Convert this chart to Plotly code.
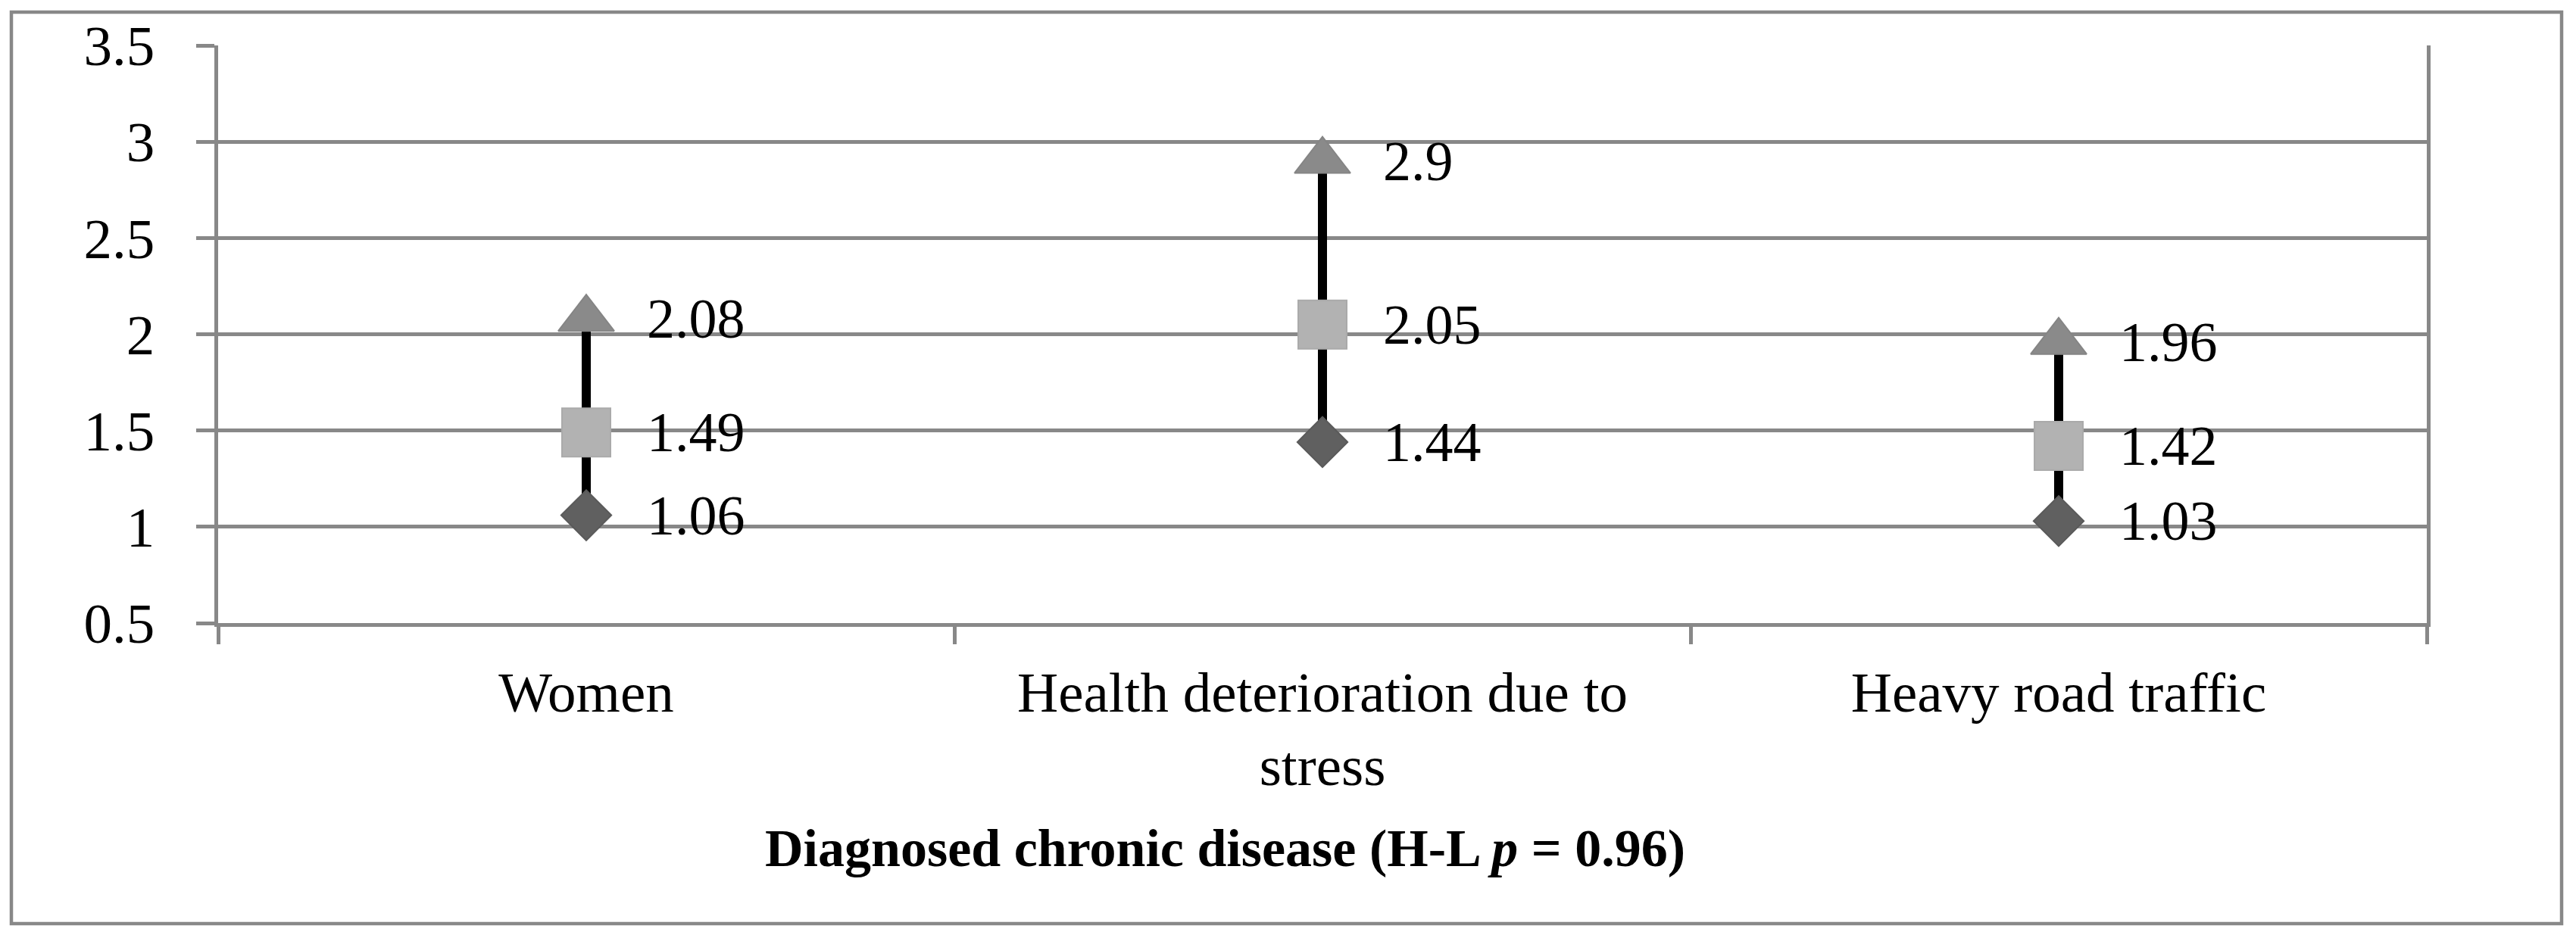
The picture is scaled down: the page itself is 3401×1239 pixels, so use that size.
import plotly.graph_objects as go

# ---- data ----
categories = ["Women", "Health deterioration due to<br>stress", "Heavy road traffic"]
low_values = [1.06, 1.44, 1.03]
mid_values = [1.49, 2.05, 1.42]
high_values = [2.08, 2.90, 1.96]
low_labels = ["1.06", "1.44", "1.03"]
mid_labels = ["1.49", "2.05", "1.42"]
high_labels = ["2.08", "2.9", "1.96"]
y_ticks = [0.5, 1, 1.5, 2, 2.5, 3, 3.5]
y_ticktext = ["0.5", "1", "1.5", "2", "2.5", "3", "3.5"]
title_text = "<b>Diagnosed chronic disease (H-L <i>p</i> = 0.96)</b>"

# page is rendered with an 8px body margin, so the figure is shrunk by 8px
OFF = 8
W, H = 3401 - OFF, 1239 - OFF
PL, PR, PT, PB = 288, 3204, 60, 823          # plot area in page pixels
ML, MT = PL - OFF, PT - OFF
MR = 3401 - PR
MB = 1239 - PB
PW = W - ML - MR
PH = H - MT - MB
FONT = "Liberation Serif"
GRID = "#888888"


def px_x(px):
    return (px - PL) / PW


def px_y(py):
    return (PB - py) / PH


fig = go.Figure()

# high-low lines
hl_x, hl_y = [], []
for c, lo, hi in zip(categories, low_values, high_values):
    hl_x += [c, c, None]
    hl_y += [lo, hi, None]
fig.add_trace(go.Scatter(x=hl_x, y=hl_y, mode="lines",
                         line=dict(color="black", width=12),
                         hoverinfo="skip", showlegend=False))

fig.add_trace(go.Scatter(x=categories, y=low_values, mode="markers", showlegend=False,
                         marker=dict(symbol="diamond", size=51, color="#606060",
                                     line=dict(color="#5a5a5a", width=2))))
fig.add_trace(go.Scatter(x=categories, y=mid_values, mode="markers", showlegend=False,
                         marker=dict(symbol="square", size=64, color="#b2b2b2",
                                     line=dict(color="#aaaaaa", width=2))))
fig.add_trace(go.Scatter(x=categories, y=high_values, mode="markers", showlegend=False,
                         marker=dict(symbol="triangle-up", size=64, color="#8a8a8a",
                                     line=dict(color="#858585", width=2))))

annotations = []
for vals, labs in ((low_values, low_labels), (mid_values, mid_labels), (high_values, high_labels)):
    for c, v, t in zip(categories, vals, labs):
        annotations.append(dict(x=c, y=v, xref="x", yref="y", text=t, showarrow=False,
                                xanchor="left", yanchor="middle", xshift=78,
                                font=dict(family=FONT, size=74, color="black")))

annotations.append(dict(x=px_x(1617), y=px_y(1120),
                        xref="paper", yref="paper", text=title_text, showarrow=False,
                        xanchor="center", yanchor="middle",
                        font=dict(family=FONT, size=70, color="black")))

fig.update_layout(
    width=W, height=H,
    margin=dict(l=ML, r=MR, t=MT, b=MB, autoexpand=False),
    paper_bgcolor="white", plot_bgcolor="white",
    annotations=annotations,
    shapes=[dict(type="rect", xref="paper", yref="paper",
                 x0=px_x(15), x1=px_x(3382), y0=px_y(1220), y1=px_y(16),
                 line=dict(color=GRID, width=4.5), layer="below")],
)

fig.update_xaxes(type="category", range=[-0.5, 2.5], tickson="boundaries",
                 ticks="outside", ticklen=23, tickwidth=4.5, tickcolor=GRID,
                 showline=True, linecolor=GRID, linewidth=4.5, showgrid=False,
                 zeroline=False, ticklabelstandoff=22,
                 tickfont=dict(family=FONT, size=75, color="black"))
fig.update_yaxes(range=[0.5, 3.5], tickvals=y_ticks, ticktext=y_ticktext,
                 ticks="outside", ticklen=24, tickwidth=4.5, tickcolor=GRID,
                 showline=True, mirror=True, linecolor=GRID, linewidth=4.5,
                 showgrid=True, gridcolor=GRID, gridwidth=4.5, zeroline=False,
                 ticklabelstandoff=40,
                 tickfont=dict(family=FONT, size=75, color="black"))

fig.write_html("out.html")
